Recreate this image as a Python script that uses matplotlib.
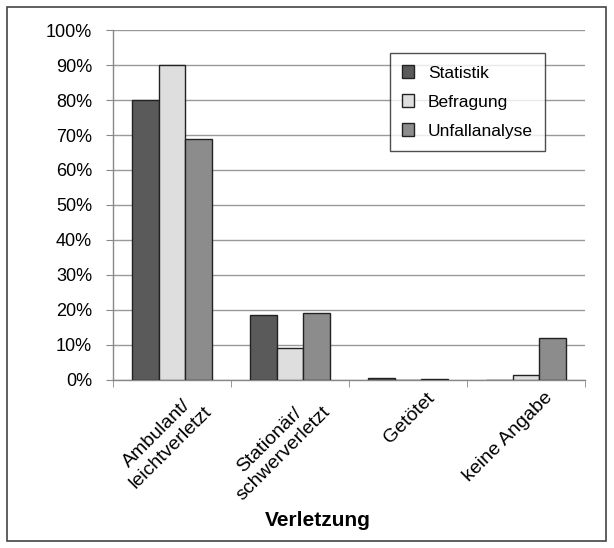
import numpy as np
import matplotlib.pyplot as plt
from matplotlib.patches import Rectangle
from matplotlib.ticker import PercentFormatter, FixedLocator

plt.rcParams['font.family'] = ['Liberation Sans', 'DejaVu Sans']

# Daten
kategorien = ['Ambulant/\nleichtverletzt', 'Stationär/\nschwerverletzt', 'Getötet', 'keine Angabe']
statistik = [80, 18.5, 0.4, 0]
befragung = [90, 9, 0, 1.5]
unfallanalyse = [69, 19, 0.2, 12]
serien = ['Statistik', 'Befragung', 'Unfallanalyse']
farben = ['#5a5a5a', '#dedede', '#8c8c8c']

fig = plt.figure(figsize=(6.14, 5.48), dpi=100)
ax = fig.add_axes([0.184, 0.307, 0.769, 0.638])

# Rahmen um die ganze Grafik
fig.patches.append(Rectangle((0.012, 0.012), 0.975, 0.975, transform=fig.transFigure,
                             fill=False, edgecolor='#444444', linewidth=1.2))

x = np.arange(len(kategorien))
breite = 0.225
for i, (werte, name) in enumerate(zip([statistik, befragung, unfallanalyse], serien)):
    ax.bar(x + (i - 1) * breite, werte, breite, color=farben[i], edgecolor='#222222',
           linewidth=1.0, label=name, zorder=3)

ax.set_xlim(-0.5, len(kategorien) - 0.5)
ax.set_ylim(0, 100)
ax.set_yticks(np.arange(0, 101, 10))
ax.yaxis.set_major_formatter(PercentFormatter(decimals=0))
ax.yaxis.grid(True, color='#999999', linewidth=1.0, zorder=0)

ax.set_xticks(x + 0.15)
ax.set_xticklabels(kategorien, rotation=45, ha='right', rotation_mode='anchor',
                   fontsize=14, multialignment='center')
ax.xaxis.set_minor_locator(FixedLocator(np.arange(-0.5, len(kategorien), 1.0)))
ax.tick_params(axis='x', which='major', length=0, pad=7)
ax.tick_params(axis='x', which='minor', length=5, color='#888888', direction='out')
ax.tick_params(axis='y', labelsize=13, length=5, color='#888888', direction='out', pad=10)

for s in ['top', 'right']:
    ax.spines[s].set_visible(False)
for s in ['left', 'bottom']:
    ax.spines[s].set_color('#888888')
    ax.spines[s].set_linewidth(1.0)

ax.set_xlabel('Verletzung', fontsize=15, fontweight='bold')
ax.xaxis.set_label_coords(0.434, -0.375)

leg = ax.legend(loc='upper right', bbox_to_anchor=(0.915, 0.934), borderaxespad=0,
                fontsize=12.5, frameon=True, fancybox=False, handlelength=0.7,
                handleheight=0.7, borderpad=0.7, labelspacing=0.8, handletextpad=0.8)
leg.get_frame().set_edgecolor('#222222')
leg.get_frame().set_linewidth(1.0)

fig.savefig('out.png', dpi=100)
